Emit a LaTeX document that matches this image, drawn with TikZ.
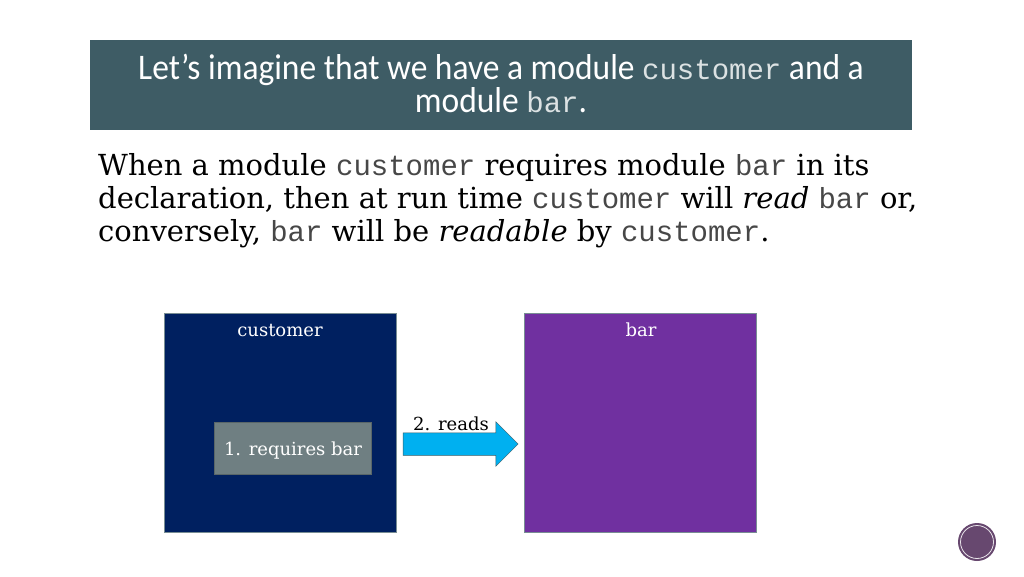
\documentclass[tikz,border=0pt]{standalone}
\usepackage{fontspec}
\setmainfont{DejaVu Serif}
\setmonofont{Liberation Mono}
\newfontfamily\titlefont[FakeStretch=0.93]{Carlito}
\usetikzlibrary{shapes.arrows}
\definecolor{titleteal}{HTML}{3E5C65}
\definecolor{navybox}{HTML}{002060}
\definecolor{purplebox}{HTML}{7030A0}
\definecolor{greybox}{HTML}{6F7F82}
\definecolor{arrowblue}{HTML}{00B0F0}
\definecolor{badge}{HTML}{67486F}
\newcommand{\bodycode}[1]{{\ttfamily\color{black!72}#1}}
\newcommand{\titlecode}[1]{{\ttfamily\fontsize{29}{29}\selectfont\color{white!82!titleteal}#1}}
\tikzset{
	module/.style={draw=titleteal!70!white,minimum width=232,minimum height=219,inner sep=0},
	modname/.style={text=white,font=\fontsize{18}{20}\selectfont},
	bodyline/.style={anchor=base west,inner sep=0,font=\fontsize{29}{32}\selectfont},
}
\begin{document}
\begin{tikzpicture}[x=1pt,y=1pt]
		\useasboundingbox (0,0) rectangle (1024,576);
		\fill[white] (0,0) rectangle (1024,576);
		\node[fill=titleteal,minimum width=822,minimum height=90,inner sep=0](title) at (501,491) {};
		\node[text=white,align=center,inner sep=0,font=\titlefont\fontsize{36}{33}\selectfont](titletext) at (501,493) {Let’s imagine that we have a module \titlecode{customer} and a\\module \titlecode{bar}.};
		\node[bodyline](linea) at (98,400) {When a module \bodycode{customer} requires module \bodycode{bar} in its};
		\node[bodyline](lineb) at (98,367) {declaration, then at run time \bodycode{customer} will \textit{read} \bodycode{bar} or,};
		\node[bodyline](linec) at (98,334) {conversely, \bodycode{bar} will be \textit{readable} by \bodycode{customer}.};
		\node[module,fill=navybox](customer) at (280,153.5) {};
		\node[module,fill=purplebox](bar) at (640.5,153.5) {};
		\node[modname,anchor=base](customername) at (280,239.5) {customer};
		\node[modname,anchor=base](barname) at (641,239.5) {bar};
		\node[modname,fill=greybox,draw=greybox!80!black,minimum width=157,minimum height=52,inner sep=0](requires) at (293,128) {\raisebox{-7pt}[0pt][0pt]{1. requires bar}};
		\node[single arrow,fill=arrowblue,draw=titleteal,line width=0.5pt,minimum width=44,minimum height=115,single arrow head extend=11,single arrow tip angle=90,inner ysep=11,inner xsep=0](reads) at (455,132) {};
		\node[anchor=base,inner sep=0,font=\fontsize{18}{20}\selectfont](readslabel) at (451,146) {2. reads};
		\node[circle,fill=badge,minimum size=38,inner sep=0](logo) at (977,34) {};
		\draw[white!85!badge,line width=0.8pt] (logo.center) circle (16.5);
	\end{tikzpicture}
\end{document}
